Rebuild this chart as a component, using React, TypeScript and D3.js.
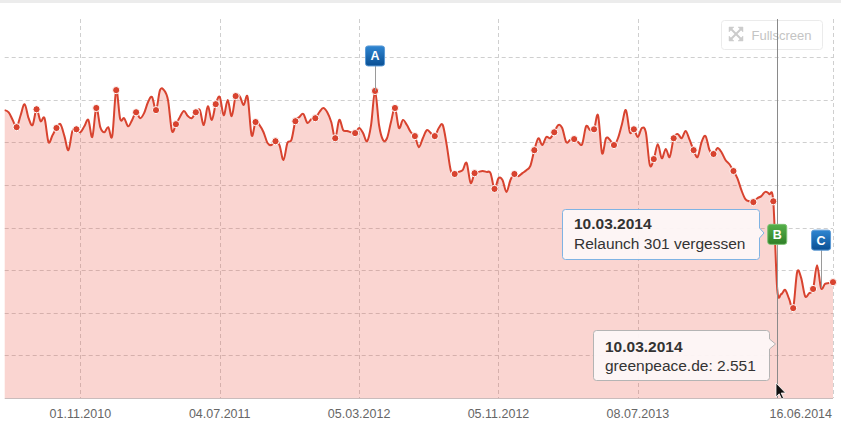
import React from 'react';
import * as d3 from 'd3';

// ---------- data ----------
const seriesName = 'greenpeace.de';
const firstWeek = '21.06.2010';
const lastWeek = '16.06.2014';

// weekly SISTRIX visibility index, 21.06.2010 … 16.06.2014
const visibility = [
  6.76, 6.71, 6.53, 6.36, 6.64, 6.9, 6.57, 6.41, 6.78, 6.5,
  6.57, 6.01, 6.17, 6.34, 6.43, 6.15, 5.82, 6.27, 6.31, 6.24,
  6.38, 6.53, 6.13, 6.81, 6.36, 6.24, 6.36, 6.15, 7.23, 6.55,
  6.57, 6.38, 6.53, 6.71, 6.57, 6.69, 6.95, 7.07, 6.76, 7.23,
  7.23, 7.0, 6.27, 6.43, 6.6, 6.74, 6.62, 6.57, 6.71, 6.76,
  6.41, 6.85, 6.53, 6.9, 7.07, 6.64, 7.0, 6.62, 7.09, 7.09,
  6.88, 7.07, 6.17, 6.48, 6.41, 6.24, 5.99, 5.94, 6.03, 5.94,
  5.59, 5.99, 6.06, 6.5, 6.6, 6.67, 6.46, 6.55, 6.57, 6.71,
  6.81, 6.71, 6.48, 6.1, 6.53, 6.29, 6.27, 6.24, 6.22, 6.34,
  6.22, 6.03, 6.41, 7.21, 6.41, 6.06, 6.1, 6.48, 6.81, 6.34,
  6.53, 6.41, 6.24, 6.15, 5.89, 6.1, 6.29, 6.22, 6.15, 6.34,
  6.41, 5.94, 5.35, 5.26, 5.31, 5.35, 5.52, 5.05, 5.28, 5.31,
  5.33, 5.31, 5.28, 4.91, 5.16, 5.12, 4.84, 5.12, 5.26, 5.21,
  5.28, 5.35, 5.45, 5.82, 6.1, 5.94, 6.13, 6.1, 6.24, 6.41,
  6.34, 6.01, 6.06, 6.08, 6.01, 5.96, 6.38, 6.29, 6.31, 6.64,
  5.75, 6.1, 6.06, 5.94, 6.1, 6.43, 6.76, 6.24, 6.31, 6.13,
  6.34, 6.24, 5.47, 5.61, 5.96, 5.63, 5.85, 5.66, 6.1, 6.2,
  6.1, 6.27, 6.06, 5.82, 5.66, 6.01, 6.15, 5.82, 5.73, 5.87,
  5.77, 5.59, 5.49, 5.33, 5.16, 4.88, 4.67, 4.62, 4.6, 4.69,
  4.74, 4.84, 4.79, 4.62, 2.551, 2.44, 2.54, 2.32, 2.11, 2.96,
  2.82, 2.39, 2.46, 2.56, 3.12, 2.58, 2.68, 2.7, 2.72,
];

const gridDates = ['01.11.2010', '04.07.2011', '05.03.2012', '05.11.2012', '08.07.2013', '10.03.2014', '16.06.2014'];
const axisLabels = ['01.11.2010', '04.07.2011', '05.03.2012', '05.11.2012', '08.07.2013', '16.06.2014'];
const yGridValues = [1, 2, 3, 4, 5, 6, 7, 8];

const flagLetters = ['A', 'B', 'C'];
const flagDates = ['02.04.2012', '10.03.2014', '26.05.2014'];
const flagColors = ['blue', 'green', 'blue'];

const hoverDate = '10.03.2014';
const flagTooltipText = 'Relaunch 301 vergessen';

// ---------- style / layout ----------
const W = 841;
const H = 429;
const plotLeft = 4.7;
const plotRight = 833;
const plotTop = 19;
const plotBottom = 398;
const yMax = 8.9;
const markerEvery = 5;
const flagLift = [25, 45, 38];
const FONT = '"Helvetica Neue", Helvetica, Arial, "Liberation Sans", sans-serif';
const LINE = '#d8432f';

export default function App() {
  const parse = d3.utcParse('%d.%m.%Y');
  const fmt = d3.utcFormat('%d.%m.%Y');
  const start = parse(firstWeek)!;
  const end = parse(lastWeek)!;
  const weeks = d3.utcMonday.range(start, d3.utcDay.offset(end, 1));
  const data = weeks.map((d, i) => ({ date: d, value: visibility[i] })).filter((d) => d.value != null);

  const x = d3.scaleUtc().domain([start, end]).range([plotLeft, plotRight]);
  const y = d3.scaleLinear().domain([0, yMax]).range([plotBottom, plotTop]);

  const curve = d3.curveCardinal.tension(0);
  const line = d3.line<any>().x((d) => x(d.date)).y((d) => y(d.value)).curve(curve);
  const area = d3.area<any>().x((d) => x(d.date)).y0(plotBottom).y1((d) => y(d.value)).curve(curve);

  const lastIdx = data.length - 1;
  const markers = data.filter((_, i) => (lastIdx - i) % markerEvery === 0);

  const valueAt = (ds: string) => {
    const t = parse(ds)!.getTime();
    const p = data.find((d) => d.date.getTime() === t);
    return p ? p.value : 0;
  };

  const hoverX = Math.round(x(parse(hoverDate)!)) + 0.5;
  const hoverVal = valueAt(hoverDate);
  const hoverLabel = `${seriesName}: ${d3.format('.3f')(hoverVal).replace('.', '.')}`;

  const flagGrad: Record<string, [string, string, string]> = {
    blue: ['#2f86d2', '#0a4f93', '#5b9ad6'],
    green: ['#55b04a', '#2f7f27', '#7cc172'],
  };

  // tooltip geometry
  const tip1 = { x: 562.5, y: 209.5, w: 197, h: 50, ay: 233 };
  const tip2 = { x: 593.5, y: 330.5, w: 176, h: 50, ay: 344 };
  const callout = (t: { x: number; y: number; w: number; h: number; ay: number }, tipX: number) => {
    const r = 3;
    const R = t.x + t.w;
    const B = t.y + t.h;
    return `M${t.x + r},${t.y} H${R - r} Q${R},${t.y} ${R},${t.y + r} V${t.ay - 5} L${tipX},${t.ay} L${R},${t.ay + 5} V${B - r} Q${R},${B} ${R - r},${B} H${t.x + r} Q${t.x},${B} ${t.x},${B - r} V${t.y + r} Q${t.x},${t.y} ${t.x + r},${t.y} Z`;
  };

  return (
    <div style={{ position: 'fixed', left: 0, top: 0 }}>
      <svg width={W} height={H} style={{ display: 'block', fontFamily: FONT }}>
        <defs>
          {Object.entries(flagGrad).map(([k, c]) => (
            <linearGradient key={k} id={`flag-${k}`} x1="0" y1="0" x2="0" y2="1">
              <stop offset="0" stopColor={c[0]} />
              <stop offset="1" stopColor={c[1]} />
            </linearGradient>
          ))}
        </defs>
        <rect x={0} y={0} width={W} height={H} fill="#ffffff" />
        <rect x={0} y={0} width={W} height={3} fill="#ececec" />

        {/* grid */}
        {yGridValues.map((v) => (
          <line key={`h${v}`} x1={plotLeft} x2={plotRight} y1={Math.round(y(v)) + 0.5} y2={Math.round(y(v)) + 0.5}
            stroke="#cfcfcf" strokeDasharray="4,3" />
        ))}
        {gridDates.map((ds) => {
          const gx = Math.round(x(parse(ds)!)) + 0.5;
          return <line key={`v${ds}`} x1={gx} x2={gx} y1={plotTop} y2={plotBottom} stroke="#cfcfcf" strokeDasharray="4,3" />;
        })}

        {/* series */}
        <path d={area(data) || ''} fill="#e8493a" fillOpacity={0.23} />
        <line x1={plotLeft} x2={plotRight} y1={plotBottom + 0.5} y2={plotBottom + 0.5} stroke="#c9bcbc" />
        <path d={line(data) || ''} fill="none" stroke={LINE} strokeWidth={2} strokeLinejoin="round" />
        {markers.map((d, i) => (
          <circle key={i} cx={x(d.date)} cy={y(d.value)} r={3.6} fill={LINE} stroke="#ffffff" strokeWidth={1} />
        ))}

        {/* x-axis labels */}
        {axisLabels.map((ds, i) => {
          const lx = x(parse(ds)!);
          const last = i === axisLabels.length - 1;
          return (
            <text key={ds} x={last ? plotRight - 1 : lx} y={418} textAnchor={last ? 'end' : 'middle'}
              fontSize={12.5} fill="#666666">{ds}</text>
          );
        })}

        {/* fullscreen button */}
        <g>
          <rect x={721.5} y={20.5} width={101} height={29} rx={3} fill="#ffffff" stroke="#ebebeb" />
          <g stroke="#cccccc" strokeWidth={2} fill="#cccccc">
            <line x1={731} y1={29} x2={741} y2={39} />
            <line x1={741} y1={29} x2={731} y2={39} />
            <path d="M729,27 h5 l-5,5 z" strokeWidth={0.5} />
            <path d="M743,27 h-5 l5,5 z" strokeWidth={0.5} />
            <path d="M729,41 h5 l-5,-5 z" strokeWidth={0.5} />
            <path d="M743,41 h-5 l5,-5 z" strokeWidth={0.5} />
          </g>
          <text x={751.5} y={39.5} fontSize={13} fill="#c4c4c4">Fullscreen</text>
        </g>

        {/* crosshair */}
        <line x1={hoverX} x2={hoverX} y1={plotTop} y2={plotBottom} stroke="#8a8a8a" strokeWidth={1} />

        {/* flags */}
        {flagLetters.map((L, i) => {
          const fd = parse(flagDates[i])!;
          const fx = x(fd);
          const py = y(valueAt(flagDates[i]));
          const bottom = py - flagLift[i];
          const bw = 19;
          const bh = 20;
          const c = flagGrad[flagColors[i]];
          return (
            <g key={L}>
              <line x1={Math.round(fx) + 0.5} x2={Math.round(fx) + 0.5} y1={bottom} y2={py} stroke="#9a9a9a" strokeWidth={1} />
              <rect x={fx - bw / 2} y={bottom - bh} width={bw} height={bh} rx={2.5}
                fill={`url(#flag-${flagColors[i]})`} stroke={c[2]} strokeWidth={1} />
              <text x={fx} y={bottom - bh / 2 + 4.5} textAnchor="middle" fontSize={12.5} fontWeight="bold" fill="#ffffff">{L}</text>
            </g>
          );
        })}

        {/* flag tooltip */}
        <path d={callout(tip1, 764)} fill="#fdf7f7" fillOpacity={0.95} stroke="#7fb3e3" strokeWidth={1} />
        <text x={574} y={229} fontSize={15.5} fontWeight="bold" fill="#333333">{hoverDate}</text>
        <text x={574} y={249} fontSize={15.5} fill="#333333">{flagTooltipText}</text>

        {/* series tooltip */}
        <path d={callout(tip2, 775.5)} fill="#fdf7f7" fillOpacity={0.95} stroke="#b4b4b4" strokeWidth={1} />
        <text x={605} y={351.5} fontSize={15.5} fontWeight="bold" fill="#333333">{fmt(parse(hoverDate)!)}</text>
        <text x={605} y={370.5} fontSize={15.5} fill="#333333">{hoverLabel}</text>

        {/* mouse pointer */}
        <path d="M776,383 L776,397 L779.2,393.8 L781.6,399 L783.6,398.1 L781.2,393 L785.6,393 Z"
          fill="#111111" stroke="#ffffff" strokeWidth={0.8} />
      </svg>
    </div>
  );
}
